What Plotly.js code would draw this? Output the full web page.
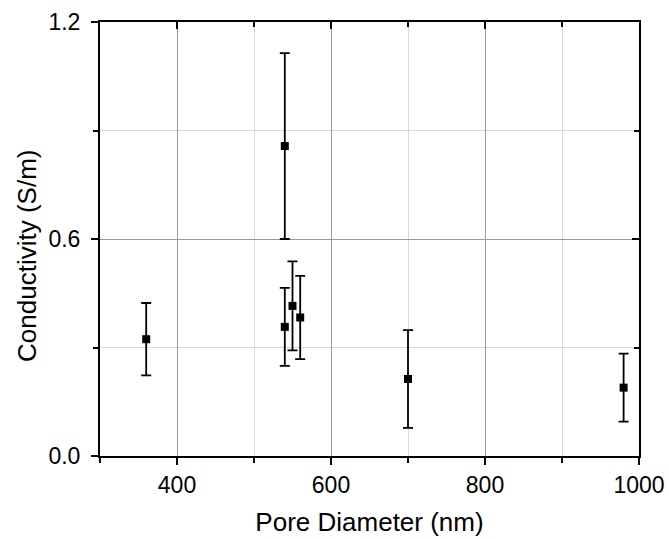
<!DOCTYPE html>
<html>
<head>
<meta charset="utf-8">
<script src="https://cdn.plot.ly/plotly-3.0.1.min.js"></script>
<style>html,body{margin:0;padding:0;background:#fff;}</style>
</head>
<body>
<div id="chart" style="width:669px;height:539px;"></div>
<script>
// Data
const poreDiameter = [360, 540, 540, 550, 560, 700, 980];
const conductivity = [0.323, 0.857, 0.357, 0.415, 0.383, 0.213, 0.189];
const conductivityErr = [0.100, 0.257, 0.108, 0.123, 0.115, 0.135, 0.094];

const xTitle = "Pore Diameter (nm)";
const yTitle = "Conductivity (S/m)";

const font = {family: "Liberation Sans, Arial, sans-serif", size: 23, color: "#000"};

const trace = {
  x: poreDiameter,
  y: conductivity,
  type: "scatter",
  mode: "markers",
  marker: {symbol: "square", size: 8, color: "#000"},
  error_y: {type: "data", array: conductivityErr, visible: true, color: "#000", thickness: 1.8, width: 5},
  showlegend: false
};

// invisible copy on the mirrored axes so the inside ticks on top/right are drawn
const mirrorTrace = {
  x: poreDiameter, y: conductivity, xaxis: "x2", yaxis: "y2",
  type: "scatter", mode: "markers", marker: {opacity: 0}, hoverinfo: "skip", showlegend: false
};

const xRange = [300, 1000];
const yRange = [0, 1.2];

const layout = {
  width: 669, height: 539,
  margin: {l: 100, r: 30, t: 22, b: 83},
  paper_bgcolor: "#fff", plot_bgcolor: "#fff",
  font: font,
  xaxis: {
    range: xRange, dtick: 200, tick0: 0,
    showline: true, linecolor: "#000", linewidth: 2, mirror: true,
    ticks: "outside", ticklen: 7, tickwidth: 2, tickcolor: "#000",
    showgrid: true, gridcolor: "#9a9a9a", gridwidth: 1,
    zeroline: false,
    minor: {dtick: 100, tick0: 0, ticks: "outside", ticklen: 5, tickwidth: 2, tickcolor: "#000", showgrid: true, gridcolor: "#d9d9d9", gridwidth: 1},
    tickfont: {size: 23},
    title: {text: xTitle, font: {size: 26}, standoff: 16}
  },
  yaxis: {
    range: yRange, dtick: 0.6, tick0: 0, tickformat: ".1f",
    showline: true, linecolor: "#000", linewidth: 2, mirror: true,
    ticks: "outside", ticklen: 7, tickwidth: 2, tickcolor: "#000",
    ticklabelstandoff: 6,
    showgrid: true, gridcolor: "#9a9a9a", gridwidth: 1,
    zeroline: false,
    minor: {dtick: 0.3, tick0: 0, ticks: "outside", ticklen: 5, tickwidth: 2, tickcolor: "#000", showgrid: true, gridcolor: "#d9d9d9", gridwidth: 1},
    tickfont: {size: 23}
  },
  xaxis2: {
    overlaying: "x", side: "top", anchor: "y2", range: xRange, dtick: 200, tick0: 0,
    showticklabels: false, showgrid: false, zeroline: false, showline: false,
    ticks: "inside", ticklen: 7, tickwidth: 2, tickcolor: "#000",
    minor: {dtick: 100, tick0: 0, ticks: "inside", ticklen: 5, tickwidth: 2, tickcolor: "#000", showgrid: false}
  },
  yaxis2: {
    overlaying: "y", side: "right", anchor: "x2", range: yRange, dtick: 0.6, tick0: 0,
    showticklabels: false, showgrid: false, zeroline: false, showline: false,
    ticks: "inside", ticklen: 7, tickwidth: 2, tickcolor: "#000",
    minor: {dtick: 0.3, tick0: 0, ticks: "inside", ticklen: 5, tickwidth: 2, tickcolor: "#000", showgrid: false}
  },
  annotations: [{
    text: yTitle, textangle: -90, showarrow: false,
    xref: "paper", yref: "paper", x: 0, y: 0.461, xanchor: "center", yanchor: "middle",
    xshift: -73, font: {size: 26}
  }]
};

Plotly.newPlot("chart", [trace, mirrorTrace], layout, {displayModeBar: false, staticPlot: true});
</script>
</body>
</html>
